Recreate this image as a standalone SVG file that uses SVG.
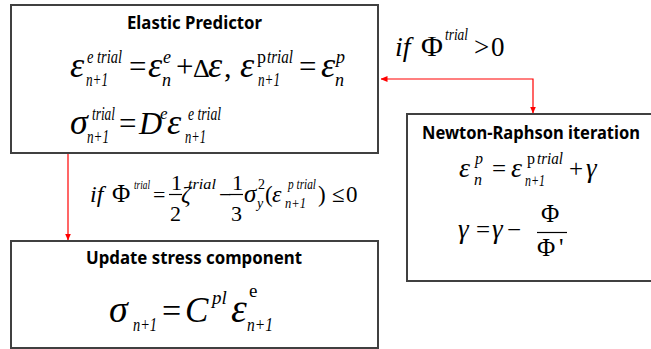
<svg xmlns="http://www.w3.org/2000/svg" width="651" height="349" viewBox="0 0 651 349">
<style>
.box{fill:#fff;stroke:#404040;stroke-width:2}
.t{font-family:"Noto Sans","Liberation Sans",sans-serif;font-weight:bold;fill:#000}
.m{font-family:"Liberation Serif","Times New Roman","DejaVu Serif",serif;fill:#000}
.i{font-style:italic}
.con{fill:none;stroke:#ff0000;stroke-width:1.2}
.bar{stroke:#000;stroke-width:1.2}
</style>
<defs>
<marker id="ah" markerWidth="7" markerHeight="6" refX="6.5" refY="3" orient="auto-start-reverse" markerUnits="userSpaceOnUse">
<path d="M0,0 L7,3 L0,6 Z" fill="#ff0000"/>
</marker>
</defs>
<rect width="651" height="349" fill="#fff"/>
<g id="connectors">
<path class="con" d="M381,79 H533 V113" marker-start="url(#ah)" marker-end="url(#ah)"/>
<path class="con" d="M68,154 V240" marker-end="url(#ah)"/>
</g>
<g id="elastic-predictor">
<rect class="box" x="11" y="5" width="367" height="148"/>
<text class="t" x="127" y="29" font-size="17" textLength="135" lengthAdjust="spacingAndGlyphs">Elastic Predictor</text>
<text class="m"><tspan class="i" x="70" y="77" font-size="36">ε</tspan><tspan class="i" x="87" y="63" font-size="18" textLength="35" lengthAdjust="spacingAndGlyphs">e trial</tspan><tspan class="i" x="86" y="86" font-size="18" textLength="22" lengthAdjust="spacingAndGlyphs">n+1</tspan><tspan x="129" y="77" font-size="31">=</tspan><tspan class="i" x="148" y="77" font-size="36">ε</tspan><tspan class="i" x="163" y="63" font-size="18">e</tspan><tspan class="i" x="162" y="86" font-size="18">n</tspan><tspan x="176" y="77" font-size="31">+</tspan><tspan x="193" y="77" font-size="26">Δ</tspan><tspan class="i" x="208" y="77" font-size="36">ε</tspan><tspan x="224" y="77" font-size="30">,</tspan><tspan class="i" x="240" y="77" font-size="36">ε</tspan><tspan x="257" y="63" font-size="18">p</tspan><tspan class="i" x="267" y="63" font-size="18" textLength="26" lengthAdjust="spacingAndGlyphs">trial</tspan><tspan class="i" x="258" y="86" font-size="18" textLength="22" lengthAdjust="spacingAndGlyphs">n+1</tspan><tspan x="299" y="77" font-size="31">=</tspan><tspan class="i" x="321" y="77" font-size="36">ε</tspan><tspan class="i" x="336" y="63" font-size="18">p</tspan><tspan class="i" x="335" y="86" font-size="18">n</tspan></text>
<text class="m"><tspan class="i" x="70" y="134" font-size="36">σ</tspan><tspan class="i" x="92" y="120" font-size="18" textLength="23" lengthAdjust="spacingAndGlyphs">trial</tspan><tspan class="i" x="87" y="143" font-size="18" textLength="22" lengthAdjust="spacingAndGlyphs">n+1</tspan><tspan x="119" y="134" font-size="31">=</tspan><tspan class="i" x="139" y="134" font-size="32">D</tspan><tspan class="i" x="160" y="119" font-size="17">e</tspan><tspan class="i" x="167" y="134" font-size="36">ε</tspan><tspan class="i" x="188" y="120" font-size="18" textLength="33" lengthAdjust="spacingAndGlyphs">e trial</tspan><tspan class="i" x="185" y="143" font-size="18" textLength="21" lengthAdjust="spacingAndGlyphs">n+1</tspan></text>
</g>
<g id="cond-plastic">
<text class="m"><tspan class="i" x="395" y="56" font-size="28">if</tspan><tspan x="421" y="56" font-size="30">Φ</tspan><tspan class="i" x="445" y="40" font-size="17" textLength="23" lengthAdjust="spacingAndGlyphs">trial</tspan><tspan x="474" y="56" font-size="27">&gt;</tspan><tspan x="491" y="56" font-size="27">0</tspan></text>
</g>
<g id="newton-raphson">
<rect class="box" x="407" y="114" width="260" height="167"/>
<text class="t" x="422" y="139" font-size="18" textLength="218" lengthAdjust="spacingAndGlyphs">Newton-Raphson iteration</text>
<text class="m"><tspan class="i" x="459" y="177" font-size="28">ε</tspan><tspan class="i" x="475" y="164" font-size="16">p</tspan><tspan class="i" x="474" y="185" font-size="16">n</tspan><tspan x="492" y="177" font-size="25">=</tspan><tspan class="i" x="511" y="177" font-size="28">ε</tspan><tspan x="527" y="164" font-size="16">p</tspan><tspan class="i" x="537" y="164" font-size="16" textLength="26" lengthAdjust="spacingAndGlyphs">trial</tspan><tspan class="i" x="525" y="186" font-size="16" textLength="20" lengthAdjust="spacingAndGlyphs">n+1</tspan><tspan x="569" y="177" font-size="25">+</tspan><tspan class="i" x="586" y="177" font-size="27">γ</tspan></text>
<text class="m"><tspan class="i" x="458" y="238" font-size="27">γ</tspan><tspan x="476" y="238" font-size="25">=</tspan><tspan class="i" x="492" y="238" font-size="27">γ</tspan><tspan x="507" y="238" font-size="25">−</tspan><tspan x="541" y="222" font-size="25">Φ</tspan><tspan x="537" y="256" font-size="25">Φ</tspan><tspan x="559" y="256" font-size="25">'</tspan></text>
<line class="bar" x1="537" y1="232.5" x2="567" y2="232.5"/>
</g>
<g id="cond-elastic">
<text class="m"><tspan class="i" x="90" y="202" font-size="24">if</tspan><tspan x="112" y="202" font-size="25">Φ</tspan><tspan class="i" x="134" y="189" font-size="13" textLength="16" lengthAdjust="spacingAndGlyphs">trial</tspan><tspan x="153" y="202" font-size="22">=</tspan><tspan x="171" y="190" font-size="22">1</tspan><tspan x="170" y="221" font-size="22">2</tspan><tspan class="i" x="181" y="202" font-size="24">ζ</tspan><tspan class="i" x="188" y="189" font-size="14" textLength="28" lengthAdjust="spacingAndGlyphs">trial</tspan><tspan x="219" y="202" font-size="22">−</tspan><tspan x="232" y="190" font-size="22">1</tspan><tspan x="231" y="221" font-size="22">3</tspan><tspan class="i" x="244" y="202" font-size="25">σ</tspan><tspan x="258" y="189" font-size="14">2</tspan><tspan class="i" x="257" y="208" font-size="14">y</tspan><tspan x="265" y="202" font-size="23">(</tspan><tspan class="i" x="272" y="202" font-size="24">ε</tspan><tspan class="i" x="288" y="189" font-size="14" textLength="28" lengthAdjust="spacingAndGlyphs">p trial</tspan><tspan class="i" x="285" y="208" font-size="14" textLength="21" lengthAdjust="spacingAndGlyphs">n+1</tspan><tspan x="318" y="202" font-size="23">)</tspan><tspan x="332" y="202" font-size="23">≤</tspan><tspan x="346" y="202" font-size="23">0</tspan></text>
<line class="bar" x1="169" y1="194.5" x2="182" y2="194.5"/>
<line class="bar" x1="229" y1="194.5" x2="243" y2="194.5"/>
</g>
<g id="update-stress">
<rect class="box" x="11" y="241" width="367" height="107"/>
<text class="t" x="86" y="264" font-size="18" textLength="216" lengthAdjust="spacingAndGlyphs">Update stress component</text>
<text class="m"><tspan class="i" x="109" y="322" font-size="38">σ</tspan><tspan class="i" x="133" y="331" font-size="19" textLength="24" lengthAdjust="spacingAndGlyphs">n+1</tspan><tspan x="162" y="322" font-size="34">=</tspan><tspan class="i" x="185" y="322" font-size="35">C</tspan><tspan class="i" x="212" y="304" font-size="19">pl</tspan><tspan class="i" x="231" y="322" font-size="40">ε</tspan><tspan x="249" y="297" font-size="19">e</tspan><tspan class="i" x="247" y="331" font-size="19" textLength="26" lengthAdjust="spacingAndGlyphs">n+1</tspan></text>
</g>
</svg>
